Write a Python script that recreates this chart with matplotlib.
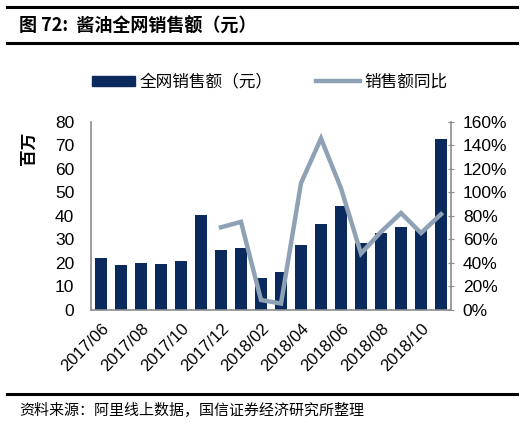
import matplotlib
matplotlib.use("Agg")
import matplotlib.pyplot as plt
from matplotlib.lines import Line2D
from matplotlib.patches import Patch
import numpy as np

months = ["2017/06", "2017/07", "2017/08", "2017/09", "2017/10", "2017/11",
          "2017/12", "2018/01", "2018/02", "2018/03", "2018/04", "2018/05",
          "2018/06", "2018/07", "2018/08", "2018/09", "2018/10", "2018/11"]
sales = [22.0, 19.0, 19.9, 19.7, 20.7, 40.3, 25.5, 26.4, 13.6, 16.3,
         27.8, 36.6, 44.3, 28.5, 32.8, 35.5, 34.0, 72.9]
yoy = [None, None, None, None, None, None,
       70.4, 75.0, 8.5, 5.5, 108.0, 146.0, 103.5, 48.0, 66.5, 82.5, 65.5, 81.5]
tick_labels = ["2017/06", "2017/08", "2017/10", "2017/12", "2018/02",
               "2018/04", "2018/06", "2018/08", "2018/10"]
left_ticks = [0, 10, 20, 30, 40, 50, 60, 70, 80]
right_ticks = [0, 20, 40, 60, 80, 100, 120, 140, 160]

NAVY = "#0a2a5e"
GREY = "#8fa1b5"
SPINE = "#8c8c8c"

plt.rcParams['font.family'] = ['Liberation Sans', 'Noto Sans CJK SC', 'DejaVu Sans']
CJK = ['Noto Sans CJK SC', 'DejaVu Sans']

fig = plt.figure(figsize=(5.29, 4.24), dpi=100)
ax = fig.add_axes([0.172, 0.2689, 0.6806, 0.4434])
ax2 = ax.twinx()

x = np.arange(len(months))
ax.bar(x, sales, width=0.6, color=NAVY, zorder=2)
ax.set_xlim(-0.5, len(months) - 0.5)
ax.set_ylim(0, 80)
ax.set_yticks(left_ticks)
ax.set_yticklabels([str(v) for v in left_ticks], fontsize=12.5)

yx = [i for i, v in enumerate(yoy) if v is not None]
yv = [v for v in yoy if v is not None]
ax2.plot(yx, yv, color=GREY, lw=3.2, solid_joinstyle='miter', zorder=3)
ax2.set_ylim(0, 160)
ax2.set_yticks(right_ticks)
ax2.set_yticklabels([f"{v}%" for v in right_ticks], fontsize=12.5)

tick_pos = [months.index(t) for t in tick_labels]
ax.set_xticks(tick_pos)
ax.set_xticklabels(tick_labels, rotation=45, ha='right', rotation_mode='anchor', fontsize=12)
ax.tick_params(axis='x', length=0, pad=8)
ax.tick_params(axis='y', length=0, pad=12)
ax2.tick_params(axis='y', length=5, direction='inout', color=SPINE, pad=6)

ax.spines['top'].set_visible(False)
ax2.spines['top'].set_visible(False)
ax.spines['right'].set_visible(False)
ax2.spines['left'].set_visible(False)
ax2.spines['bottom'].set_visible(False)
ax.spines['left'].set_color(SPINE)
ax.spines['bottom'].set_color(SPINE)
ax2.spines['right'].set_color(SPINE)
ax.spines['left'].set_linewidth(1.2)
ax.spines['bottom'].set_linewidth(1.2)
ax2.spines['right'].set_linewidth(1.2)

ax.set_ylabel("百万", family=CJK, fontsize=12, fontweight='bold')
ax.yaxis.set_label_coords(-0.147, 0.86)

# legend
handles = [Patch(color=NAVY, label="全网销售额（元）"),
           Line2D([0], [0], color=GREY, lw=3.2, label="销售额同比")]
fig.legend(handles=handles, loc='center', bbox_to_anchor=(0.51, 0.806), ncol=2,
           frameon=False, prop={'family': CJK, 'size': 12}, handlelength=2.6,
           handleheight=0.6, columnspacing=2.6, handletextpad=0.3)

# title and frame lines
fig.add_artist(Line2D([0.013, 0.977], [0.984, 0.984], color='black', lw=2.2))
fig.add_artist(Line2D([0.013, 0.977], [0.899, 0.899], color='black', lw=2.2))
fig.text(0.036, 0.937, "图 72:  酱油全网销售额（元）", family=CJK, fontsize=13,
         fontweight='bold', va='center', ha='left')
fig.add_artist(Line2D([0.013, 0.977], [0.071, 0.071], color='black', lw=2.2))
fig.text(0.036, 0.033, "资料来源：阿里线上数据，国信证券经济研究所整理", family=CJK,
         fontsize=10.8, va='center', ha='left')

fig.savefig("out.png", dpi=100)
